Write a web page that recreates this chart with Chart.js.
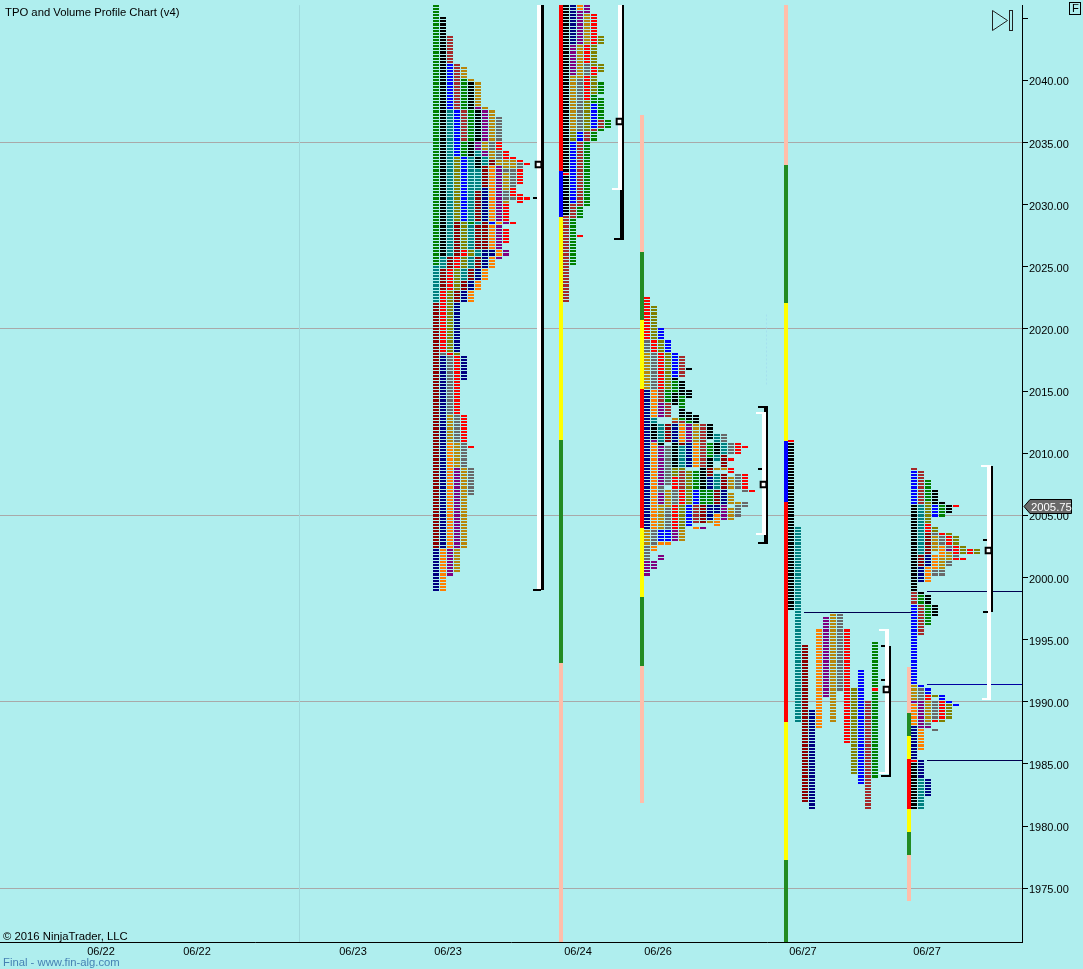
<!DOCTYPE html>
<html>
<head>
<meta charset="utf-8">
<title>TPO and Volume Profile Chart</title>
<script src="https://cdn.jsdelivr.net/npm/chart.js@4/dist/chart.umd.min.js"></script>
<style>
  body { margin: 0; background: #afeeee; }
  canvas { display: block; }
</style>
</head>
<body>
<canvas id="tpoChart" width="1083" height="969"></canvas>
<script>
// tick labels
const dateLabels = ["06/22", "06/22", "06/23", "06/23", "06/24", "06/26", "06/27", "06/27"];
const dateSlots = [14.43, 28.14, 50.43, 64, 82.57, 94, 114.71, 132.43];
const gridPrices = [2035, 2020, 2005, 1990, 1975];

// letter -> colour of a TPO period
const tpoColors = {
  g: "#008000", k: "#000000", b: "#0000ff", r: "#ff0000", n: "#000080", t: "#008080", o: "#ff7f00",
  p: "#800080", m: "#8b0000", B: "#a52a2a", O: "#808000", G: "#696969", D: "#b8860b",
  w: "#ffffff", Y: "#ffff00", F: "#228b22", P: "#ffbeaa"
};

// profiles: one list per column, each run is [colour, top price, bottom price]
const profile1 = [
  [["g",2046,2025.25],["t",2025,2022.25],["m",2022,2002.5],["n",2002.25,1999]],
  [["k",2045,2026],["t",2025.75,2025],["m",2024.75,2023.25],["r",2023,2018.25],["G",2018,2018],["n",2017.75,2002.5],["o",2002.25,1999]],
  [["B",2043.5,2041.5],["b",2041.25,2037.75],["t",2037.5,2026],["m",2025.75,2025],["r",2024.75,2023.25],["O",2023,2018.25],["r",2018,2018],["G",2017.75,2013.25],["D",2013,2011],["o",2010.75,2002.5],["p",2002.25,2000.25]],
  [["B",2041.25,2037.75],["b",2037.5,2034],["O",2033.75,2028.75],["m",2028.5,2026],["r",2025.75,2025],["O",2024.75,2023.25],["m",2023,2022.25],["n",2022,2018.25],["O",2018,2018],["r",2017.75,2013.25],["G",2013,2011],["D",2010.75,2009],["p",2008.75,2002.5],["D",2002.25,2000.5]],
  [["D",2041,2040.25],["g",2040,2037.75],["B",2037.5,2035.25],["g",2035,2034],["b",2033.75,2028.75],["O",2028.5,2026.5],["r",2026.25,2026],["O",2025.75,2025],["t",2024.75,2024],["m",2023.75,2023.25],["n",2023,2022.25],["n",2017.75,2016],["r",2013,2011],["G",2010.75,2009],["D",2008.75,2002.5]],
  [["D",2040,2040],["k",2039.75,2037.75],["g",2037.5,2035.25],["k",2035,2034],["t",2033.75,2028.75],["g",2028.5,2028.5],["t",2028.25,2026.5],["O",2026.25,2026],["t",2025.75,2025],["m",2024.75,2024],["n",2023.75,2023.25],["o",2023,2022.25],["r",2010.5,2010.5],["G",2008.75,2006.75]],
  [["D",2039.75,2038],["p",2037.75,2037.75],["k",2037.5,2035.25],["p",2035,2034.5],["t",2034.25,2034],["k",2033.75,2033],["t",2032.75,2031.25],["m",2031,2028.75],["t",2028.5,2028.5],["m",2028.25,2026.5],["t",2026.25,2026],["m",2025.75,2025],["n",2024.75,2024],["o",2023.75,2023.25]],
  [["D",2037.75,2037.75],["p",2037.5,2035.25],["D",2035,2034.5],["p",2034.25,2034],["t",2033.75,2033.25],["m",2033,2031.5],["n",2031.25,2028.75],["m",2028.5,2026.5],["n",2026.25,2025],["o",2024.75,2024]],
  [["D",2037.5,2035.25],["G",2035,2034.5],["D",2034.25,2033.75],["m",2033.5,2033.25],["o",2033,2028.75],["b",2028.5,2028.5],["o",2028.25,2026.5],["n",2026.25,2026],["o",2025.75,2025]],
  [["G",2037,2035.25],["r",2035,2034.5],["G",2034.25,2033.75],["D",2033.5,2033.25],["p",2033,2028.75],["o",2028.5,2028.5],["p",2028.25,2026.5],["o",2026.25,2026],["p",2025.75,2025.75]],
  [["r",2034.25,2033.75],["D",2033.5,2033],["G",2032.75,2032.75],["D",2032.5,2031.25],["G",2031,2030.5],["D",2030.25,2030.25],["r",2030,2028.75],["p",2028.5,2028.5],["r",2028,2027],["p",2026.25,2026]],
  [["r",2033.75,2033.75],["D",2033.5,2033],["G",2032.75,2031.5],["r",2031.25,2030.75],["G",2030.5,2030.5],["r",2028.5,2028.5]],
  [["r",2033.5,2033.5],["G",2033.25,2033],["r",2032.75,2031.75],["r",2030.75,2030.25]],
  [["r",2033.25,2033.25],["r",2030.5,2030.5]]
];
const profile2 = [
  [["k",2046,2032.75],["r",2032.5,2032.5],["k",2032.25,2029.25],["B",2029,2022.25]],
  [["n",2046,2043],["p",2042.75,2040.5],["D",2040.25,2036],["O",2035.75,2035.25],["b",2035,2030.25],["B",2030,2029],["g",2028.75,2025.25]],
  [["o",2046,2045.75],["p",2045.5,2043],["D",2042.75,2040.25],["G",2040,2036],["b",2035.75,2035.25],["B",2035,2030],["g",2029.75,2029],["r",2027.5,2027.5]],
  [["p",2046,2045.5],["D",2045.25,2043],["r",2042.75,2041.5],["G",2041.25,2040.5],["r",2040.25,2038.5],["O",2038.25,2036],["B",2035.75,2035.25],["g",2035,2030]],
  [["r",2045.25,2043],["O",2042.75,2041.25],["r",2041,2040.5],["O",2040.25,2039],["g",2038.75,2038.25],["b",2038,2036.25],["B",2036,2036],["g",2035.75,2035.25]],
  [["O",2043.5,2043],["O",2041.25,2040.75],["g",2039.75,2039],["g",2038.5,2037],["B",2036.75,2036.25],["g",2036,2036]],
  [["g",2036.75,2036.25]]
];
const profile3 = [
  [["r",2022.5,2019.25],["G",2019,2018.25],["D",2018,2015.25],["n",2015,2004],["D",2003.75,2002.75],["G",2002.5,2001.5],["p",2001.25,2000.25]],
  [["O",2021.75,2019.25],["r",2019,2018.25],["G",2018,2015.25],["o",2015,2013],["t",2012.75,2012.5],["k",2012.25,2011.25],["p",2011,2011],["o",2010.75,2004],["G",2003.75,2002.75],["o",2002.5,2002.25],["p",2001.25,2000.75]],
  [["b",2020,2019.25],["O",2019,2018.25],["r",2018,2015.25],["B",2015,2014.25],["p",2014,2013],["t",2012.25,2011],["k",2010.75,2010.75],["p",2010.5,2007.5],["G",2007.25,2007],["p",2006.75,2006],["D",2005.75,2004],["b",2003.75,2003],["o",2002.75,2002.75],["p",2001.75,2001.5]],
  [["b",2019,2018.25],["O",2018,2015.25],["g",2015,2014.25],["B",2014,2013],["m",2012.25,2011],["G",2010.5,2007.5],["D",2007,2005.75],["G",2005.5,2004],["b",2003.75,2003],["o",2002.75,2002.75]],
  [["b",2018,2016.25],["k",2016,2016],["g",2015.75,2015],["k",2014.75,2014],["D",2012.75,2012.75],["B",2012.5,2012.5],["n",2012.25,2011],["k",2010.75,2009],["O",2008.75,2008.25],["r",2008,2007.25],["G",2007,2006],["r",2005.75,2004],["p",2003.75,2003]],
  [["B",2017.75,2016.25],["k",2015.75,2014.75],["g",2014.5,2013.75],["k",2013.5,2013],["g",2012.75,2012.75],["B",2012.5,2012.5],["o",2012.25,2011],["m",2010.75,2010.75],["t",2010.5,2009],["O",2008.75,2008.75],["B",2008.5,2007.25],["r",2007,2006],["O",2005.75,2004],["D",2003.75,2003]],
  [["k",2016.75,2016.75],["k",2015,2014.5],["k",2013.25,2012.75],["g",2012.5,2012.5],["p",2012.25,2011],["n",2010.75,2009],["O",2008.5,2007.25],["O",2007,2006],["b",2005.75,2004.25]],
  [["k",2013,2012.5],["D",2012.25,2011],["o",2010.75,2009],["g",2008.5,2007.25],["b",2007,2006],["B",2005.75,2004.5],["o",2004,2004]],
  [["B",2012.25,2011],["B",2010.75,2009],["k",2008.75,2007.25],["g",2007,2006],["m",2005.75,2004.5],["p",2004,2004]],
  [["k",2012.25,2011.25],["g",2010.75,2009.75],["k",2009.5,2009],["m",2008.75,2008.25],["n",2008,2007.25],["g",2007,2006],["n",2005.75,2004.75],["D",2004.5,2004.5]],
  [["t",2011.5,2011],["k",2010.75,2010],["t",2009.75,2009.5],["D",2008.75,2008.75],["t",2008.25,2007.25],["m",2007,2006],["n",2005.75,2005.25],["o",2005,2004.25]],
  [["G",2011.5,2011],["t",2010.75,2010],["m",2009.75,2009],["D",2008.75,2008.75],["m",2008.25,2007.25],["n",2007,2006],["p",2005.75,2004.75]],
  [["G",2010.75,2010],["r",2009.5,2009.5],["r",2008.75,2008.5],["D",2008,2007.25],["D",2006.75,2006],["D",2005.5,2004.75]],
  [["r",2010.75,2010],["G",2008.25,2007.25],["D",2006,2006],["G",2005.75,2005]],
  [["r",2010.5,2010.5],["r",2008.25,2007.25],["G",2007,2007],["G",2006,2005.75]],
  [["r",2007,2007]]
];
const profile4 = [
  [["r",2011,2011],["k",2010.75,1997.5]],
  [["t",2004,1988.5]],
  [["m",1994.5,1982]],
  [["n",1989.25,1981.5]],
  [["o",1995.75,1988]],
  [["p",1996.75,1990.5]],
  [["D",1997,1988.5]],
  [["G",1997,1991]],
  [["r",1995.75,1986.75]],
  [["O",1991,1984.25]],
  [["b",1992.5,1983.5]],
  [["B",1990,1981.5]],
  [["g",1994.75,1991.25],["r",1991,1991],["g",1990.75,1984]]
];
const profile5 = [
  [["B",2008.75,2008.75],["b",2008.5,2006],["k",2005.75,1999],["B",1998.75,1998],["b",1997.75,1991.5],["D",1991.25,1990.25],["p",1990,1990],["o",1989.75,1988.25],["n",1988,1985.5],["r",1985.25,1985.25],["k",1985,1981.5]],
  [["B",2008.5,2006],["t",2005.75,2002],["m",2001.75,2001],["n",2000.75,1999.75],["k",1998.75,1998.75],["g",1998.5,1998],["B",1997.75,1995.5],["b",1991.25,1991.25],["G",1991,1990.25],["p",1990,1988],["o",1987.75,1986.25],["n",1985.25,1984],["t",1983.75,1981.5]],
  [["g",2007.75,2006.25],["O",2006,2004.5],["r",2004.25,2003.75],["m",2003.5,2002],["n",2001.75,2001],["o",2000.75,1999.75],["k",1998.5,1998],["g",1997.75,1996.25],["b",1991,1990.75],["r",1990.5,1990.25],["D",1990,1988.5],["G",1988.25,1988.25],["p",1988,1988],["n",1983.75,1982.5]],
  [["k",2007,2006],["b",2005.75,2005],["O",2004,2003.75],["G",2003.5,2003.5],["D",2003.25,2002.25],["o",2001.75,2000.75],["G",2000.5,2000.25],["k",1997.75,1997],["O",1990.5,1990.5],["G",1990,1988.75],["r",1988.5,1988.5],["G",1987.75,1987.75]],
  [["k",2006,2006],["g",2005.75,2005],["r",2003.5,2003.5],["G",2003.25,2002.75],["o",2002.5,2001.75],["D",2001.5,2000.75],["G",2000.5,2000.25],["b",1990.5,1990.25],["r",1990,1988.75],["O",1988.5,1988.5]],
  [["k",2005.75,2005.25],["O",2003.5,2003.5],["r",2003.25,2002.75],["G",2002.5,2002.5],["p",2002.25,2002.25],["D",2002,2001.5],["G",2001.25,2001],["b",1990,1990],["O",1989.75,1988.75]],
  [["r",2005.75,2005.75],["O",2003.25,2002.75],["r",2002.5,2002],["G",2001.75,2001.75],["r",2001.5,2001.5],["b",1989.75,1989.75]],
  [["O",2002.5,2002],["r",2001.5,2001.5]],
  [["r",2002.25,2002]],
  [["O",2002.25,2002]]
];
const profiles = [profile1, profile2, profile3, profile4, profile5];
const profileSlots = [62.29, 80.86, 92.43, 113, 130.57];

// value area strips to the left of each profile: [colour, top price, bottom price]
const strips = [
  [["r",2046.1,2032.7],["b",2032.7,2029],["Y",2029,2011.1],["F",2011.1,1993.15],["P",1993.15,1970.7]],
  [["P",2037.25,2026.15],["F",2026.15,2020.7],["Y",2020.7,2015.2],["r",2015.2,2003.95],["Y",2003.95,1998.4],["F",1998.4,1992.9],["P",1992.9,1981.9]],
  [["P",2046.1,2033.15],["F",2033.15,2022.05],["Y",2022.05,2010.95],["b",2010.95,2006.1],["r",2006.1,1988.4],["Y",1988.4,1977.3],["F",1977.3,1970.7]],
  [["P",1992.8,1989.1],["F",1989.1,1987.25],["Y",1987.25,1985.4],["r",1985.4,1981.4],["Y",1981.4,1979.55],["F",1979.55,1977.7],["P",1977.7,1974]]
];
const stripSlots = [80.14, 91.71, 112.29, 129.86];

// brackets: [colour, slot, thickness, top price, bottom price]
const bracketBars = [
  ["w",77,4,2046.1,1999], ["k",77.5,3,2046.1,1999],
  ["w",88.57,4,2046.1,2031.25], ["k",89,2,2046.1,2031.25], ["k",88.86,4,2031.25,2027.25],
  ["w",109.14,4,2013.25,2003.5], ["k",109.57,2,2013.75,2002.75], ["k",109.43,4,2013.75,2013.25], ["k",109.43,4,2003.5,2002.75],
  ["w",126.71,4,1995.75,1984.25], ["k",127.14,2,1994.5,1984],
  ["w",141.29,4,2009,1990.25], ["k",141.71,2,2009,1997.25]
];
// bracket caps and dashes: [colour, from slot, to slot, price]
const bracketCaps = [
  ["k",76.14,77.3,1999], ["k",76.14,76.7,2030.5],
  ["w",87.43,88.86,2031.25], ["k",87.7,89.14,2027.25],
  ["k",108.29,109.71,2013.75], ["k",108.29,109.71,2002.75], ["w",108,109.43,2013.25], ["w",108,109.43,2003.5], ["k",108.29,108.86,2008.75],
  ["w",125.57,127,1995.75], ["w",125.57,127,1984.25], ["k",125.86,127.29,1984], ["k",125.86,126.43,1994.5], ["k",125.86,126.43,1991.75],
  ["w",140.14,141.57,2009], ["w",140.29,141.57,1990.25], ["k",140.43,141,2003], ["k",140.43,141.14,1997.25]
];
const pocSlots = [76.86, 88.43, 109, 126.57, 141.14];
const pocPrices = [2033.25, 2036.75, 2007.5, 1991, 2002.25];

// naked levels: [from slot, to slot, price, colour]
const levelLines = [
  [114.86, 130.29, 1997.2, "#000050"],
  [132.4, 146, 1998.95, "#000050"],
  [132.4, 146, 1991.4, "#0000a0"],
  [132.4, 146, 1985.35, "#000050"]
];
const lastPrice = "2005.75";

const rowStep = 0.25;
const rowHalf = rowStep / 2;
const slotMax = 146;
const priceMax = 2046.06;
const priceMin = 1970.68;

// every row of every column goes into one dataset per colour
const cellsByColor = {};
profiles.forEach(function (columns, p) {
  columns.forEach(function (runs, c) {
    runs.forEach(function (run) {
      if (!cellsByColor[run[0]]) cellsByColor[run[0]] = [];
      for (let price = run[1]; price >= run[2]; price -= rowStep) {
        cellsByColor[run[0]].push({ x: profileSlots[p] + c, y: [price - rowHalf, price + rowHalf] });
      }
    });
  });
});

const datasets = [];
// first dataset ends up on top
datasets.push({
  type: "line", showLine: false, data: pocSlots.map((s, i) => ({ x: s, y: pocPrices[i] })),
  pointStyle: "rect", pointRadius: 4, pointBorderWidth: 2, pointBackgroundColor: "#ffffff", pointBorderColor: "#000000"
});
bracketCaps.forEach(function (c) {
  datasets.push({
    type: "line", snapLine: true, data: [{ x: c[1], y: c[3] }, { x: c[2], y: c[3] }],
    borderColor: tpoColors[c[0]], borderWidth: 2, pointRadius: 0
  });
});
bracketBars.forEach(function (b) {
  datasets.push({
    type: "bar", data: [{ x: b[1], y: [b[4], b[3]] }], backgroundColor: tpoColors[b[0]], barThickness: b[2]
  });
});
levelLines.forEach(function (l) {
  datasets.push({
    type: "line", snapLine: true, data: [{ x: l[0], y: l[2] }, { x: l[1], y: l[2] }],
    borderColor: l[3], borderWidth: 1, pointRadius: 0
  });
});
strips.forEach(function (runs, i) {
  runs.forEach(function (run) {
    datasets.push({
      type: "bar", data: [{ x: stripSlots[i], y: [run[2], run[1]] }], backgroundColor: tpoColors[run[0]], barThickness: 4
    });
  });
});
Object.keys(cellsByColor).forEach(function (key) {
  datasets.push({ type: "bar", isCell: true, data: cellsByColor[key], backgroundColor: tpoColors[key], barThickness: 6 });
});
// faint session line and the faint dotted one above the third bracket
datasets.push({
  type: "line", data: [{ x: 42.71, y: priceMax }, { x: 42.71, y: priceMin }],
  borderColor: "#9fd9dc", borderWidth: 1, pointRadius: 0
});
datasets.push({
  type: "line", data: [{ x: 109.43, y: 2021.2 }, { x: 109.43, y: 2015.6 }],
  borderColor: "#a6e0ee", borderWidth: 1, borderDash: [2, 2], pointRadius: 0
});

// NinjaTrader draws on whole pixels, so snap the elements after the scales placed them
const snapPlugin = {
  id: "snap",
  afterDatasetsUpdate(chart) {
    chart.data.datasets.forEach(function (ds, i) {
      const meta = chart.getDatasetMeta(i);
      meta.data.forEach(function (el) {
        if (ds.type === "bar") {
          const nudge = ds.isCell ? 0.6 : 0;
          el.x = Math.round(el.x - el.width / 2) + el.width / 2;
          el.y = Math.round(el.y + nudge);
          el.base = Math.round(el.base + nudge) - (ds.isCell ? 1 : 0);
        } else if (ds.snapLine) {
          el.x = Math.round(el.x);
          el.y = Math.round(el.y) + (ds.borderWidth % 2 ? 0.5 : 0);
        } else {
          el.x = Math.round(el.x) + 0.5;
          el.y = Math.round(el.y) + 0.5;
        }
      });
    });
  }
};

// title, footer texts, last price tag and the window icons
const decorPlugin = {
  id: "decor",
  afterDraw(chart) {
    const ctx = chart.ctx;
    ctx.save();
    ctx.textBaseline = "alphabetic";
    ctx.textAlign = "left";
    ctx.font = '11.3px "Liberation Sans"';
    ctx.fillStyle = "#000000";
    ctx.fillText("TPO and Volume Profile Chart (v4)", 5, 16);
    ctx.fillText("\u00a9 2016 NinjaTrader, LLC", 3, 940);
    ctx.fillStyle = "#4682b4";
    ctx.fillText("Final - www.fin-alg.com", 3, 966);

    // price tag
    ctx.beginPath();
    ctx.moveTo(1024, 506.5);
    ctx.lineTo(1030, 499.5);
    ctx.lineTo(1071.5, 499.5);
    ctx.lineTo(1071.5, 513.5);
    ctx.lineTo(1030, 513.5);
    ctx.closePath();
    ctx.fillStyle = "#696969";
    ctx.fill();
    ctx.strokeStyle = "#000000";
    ctx.lineWidth = 1;
    ctx.stroke();
    ctx.fillStyle = "#ffffff";
    ctx.fillText(lastPrice, 1031, 511);

    // F box
    ctx.strokeRect(1069.5, 2.5, 11, 12);
    ctx.fillStyle = "#000000";
    ctx.fillText("F", 1072, 12);

    // skip to end icon
    ctx.strokeStyle = "#222222";
    ctx.beginPath();
    ctx.moveTo(992.5, 10.5);
    ctx.lineTo(1007.5, 20.5);
    ctx.lineTo(992.5, 30.5);
    ctx.closePath();
    ctx.stroke();
    ctx.strokeRect(1009.5, 10.5, 3, 20);
    ctx.restore();
  }
};

new Chart(document.getElementById("tpoChart"), {
  type: "bar",
  data: { datasets: datasets },
  plugins: [snapPlugin, decorPlugin],
  options: {
    responsive: false,
    animation: false,
    events: [],
    layout: { autoPadding: false, padding: { top: 5, left: 0, right: 0, bottom: 0 } },
    datasets: { bar: { grouped: false, inflateAmount: 0, borderWidth: 0 } },
    plugins: { legend: { display: false }, tooltip: { enabled: false } },
    scales: {
      x: {
        type: "linear",
        offset: false,
        min: 0,
        max: slotMax,
        afterBuildTicks(scale) { scale.ticks = dateSlots.map(v => ({ value: v })); },
        afterFit(scale) { scale.height = 27; scale.paddingLeft = 0; scale.paddingRight = 0; },
        border: { color: "#000000", width: 1 },
        grid: { drawOnChartArea: false, drawTicks: false },
        ticks: {
          autoSkip: false, maxRotation: 0, padding: 3, color: "#000000",
          font: { family: "Liberation Sans", size: 11 },
          callback(value, index) { return dateLabels[index]; }
        }
      },
      y: {
        position: "right",
        min: priceMin,
        max: priceMax,
        afterFit(scale) { scale.width = 61; scale.paddingTop = 0; scale.paddingBottom = 0; },
        border: { color: "#000000", width: 1 },
        grid: {
          tickLength: 6,
          tickColor: "#000000",
          color(ctx) {
            const v = ctx.tick ? ctx.tick.value : 0;
            return gridPrices.includes(v) ? "#a9a9a9" : "rgba(0,0,0,0)";
          }
        },
        ticks: {
          stepSize: 5, includeBounds: false, padding: 1, labelOffset: 2, color: "#000000",
          font: { family: "Liberation Sans", size: 11 },
          callback(value) { return value === 2045 ? "" : value.toFixed(2); }
        }
      }
    }
  }
});
</script>
</body>
</html>
